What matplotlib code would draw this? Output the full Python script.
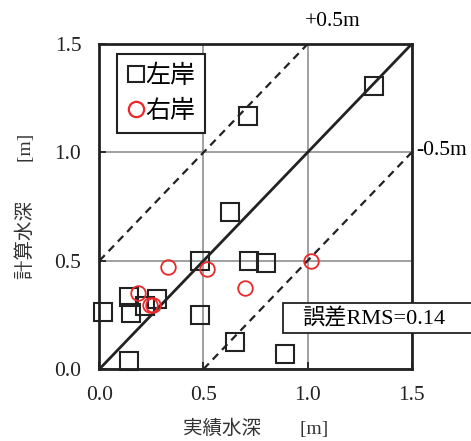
import matplotlib
matplotlib.use("Agg")
import matplotlib.pyplot as plt
from matplotlib.patches import Rectangle

plt.rcParams['font.family'] = ['Liberation Serif', 'Noto Sans CJK JP']

# 左岸 (left bank): measured vs computed depth [m]
left_obs = [1.32, 0.715, 0.627, 0.483, 0.72, 0.80, 0.141, 0.277, 0.218,
            0.019, 0.152, 0.483, 0.651, 0.891, 0.144]
left_calc = [1.307, 1.167, 0.723, 0.50, 0.50, 0.488, 0.334, 0.322, 0.291,
             0.264, 0.258, 0.249, 0.126, 0.069, 0.037]

# 右岸 (right bank)
right_obs = [0.331, 0.518, 1.016, 0.70, 0.184, 0.243, 0.259]
right_calc = [0.472, 0.461, 0.50, 0.375, 0.349, 0.295, 0.295]

rms_text = "誤差RMS=0.14"
ticks = [0.0, 0.5, 1.0, 1.5]

fig = plt.figure(figsize=(4.71, 4.41), dpi=100)
ax = fig.add_axes([0.211, 0.163, 0.663, 0.737])

ax.set_xlim(0, 1.5)
ax.set_ylim(0, 1.5)
ax.grid(True, color='#999999', linewidth=1.3, zorder=0)
ax.set_axisbelow(True)

# 1:1 line and +/-0.5 m bands
ax.plot([0, 1.5], [0, 1.5], color='#222222', linewidth=2, zorder=2)
ax.plot([0, 1.0], [0.5, 1.5], color='#222222', linewidth=1.6,
        linestyle=(0, (3.5, 2.5)), zorder=2)
ax.plot([0.5, 1.5], [0, 1.0], color='#222222', linewidth=1.6,
        linestyle=(0, (3.5, 2.5)), zorder=2)

ax.plot(left_obs, left_calc, linestyle='none', marker='s', markersize=13.5,
        markerfacecolor='none', markeredgecolor='#222222', markeredgewidth=1.5,
        label='左岸', zorder=3, clip_on=False)
ax.plot(right_obs, right_calc, linestyle='none', marker='o', markersize=10.5,
        markerfacecolor='none', markeredgecolor='#e8282a', markeredgewidth=1.3,
        label='右岸', zorder=4, clip_on=False)

ax.set_xticks(ticks)
ax.set_yticks(ticks)
ax.set_xticklabels([f"{t:.1f}" for t in ticks])
ax.set_yticklabels([f"{t:.1f}" for t in ticks])
ax.tick_params(direction='in', length=5, width=1.3, labelsize=15.5,
               colors='#222222')
ax.tick_params(axis='x', pad=12)
ax.tick_params(axis='y', pad=13)
for s in ax.spines.values():
    s.set_linewidth(2)
    s.set_color('#222222')

ax.set_xlabel("実績水深　　[m]", fontsize=14, labelpad=10, color='#333333')
ax.set_ylabel("計算水深　　[m]", fontsize=14, labelpad=14, color='#333333')

leg = ax.legend(loc='upper left', bbox_to_anchor=(0.058, 0.969),
                fontsize=18, handletextpad=0.0, handlelength=0.7,
                borderpad=0.4, labelspacing=0.5, borderaxespad=0.0,
                fancybox=False, framealpha=1, edgecolor='#222222')
leg.get_frame().set_linewidth(1.5)
# legend symbols drawn a bit smaller/larger than the plotted ones
leg.legend_handles[0].set_markersize(11.5)
leg.legend_handles[1].set_markersize(11)
leg.legend_handles[1].set_markeredgewidth(1.6)

ax.text(0.988, 1.606, "+0.5m", fontsize=15.5, ha='left', va='center',
        clip_on=False)
ax.text(1.52, 1.01, "-0.5m", fontsize=15.5, ha='left', va='center',
        clip_on=False)

# error box sticking out past the right spine
ax.add_patch(Rectangle((0.882, 0.166), 0.95, 0.139, facecolor='white',
                       edgecolor='#222222', linewidth=1.3, clip_on=False,
                       zorder=5))
ax.text(0.975, 0.233, rms_text, fontsize=16, ha='left', va='center',
        clip_on=False, zorder=6)

fig.savefig("out.png", dpi=100)
